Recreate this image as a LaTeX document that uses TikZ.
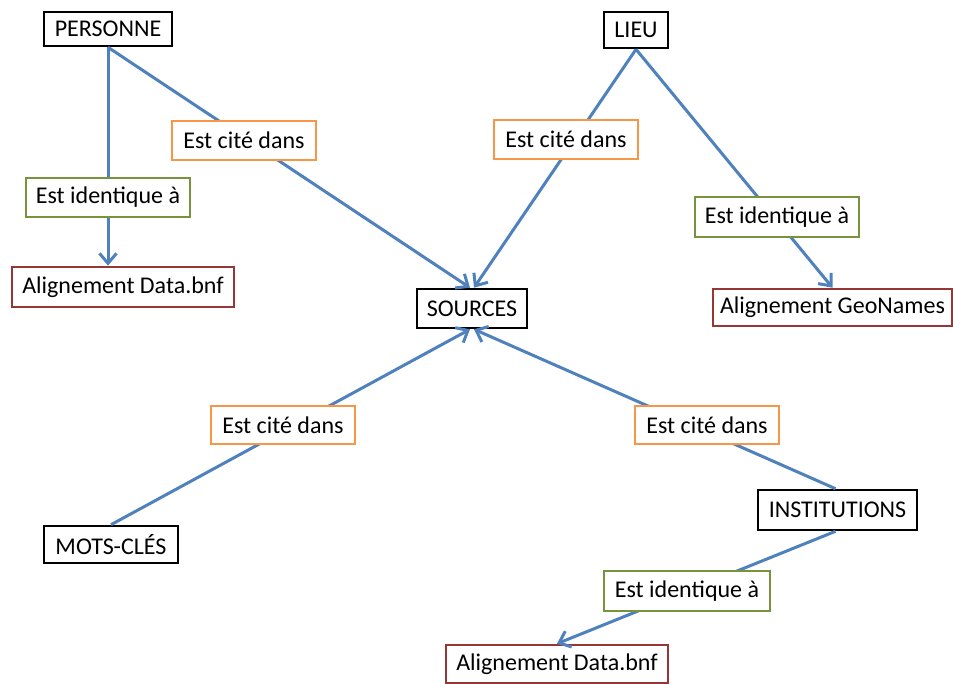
\documentclass[tikz,border=0pt]{standalone}
\usepackage{fontspec}
\setmainfont{Carlito}
\usetikzlibrary{arrows.meta}
\definecolor{linkblue}{RGB}{79,129,189}
\definecolor{citeorange}{RGB}{247,150,70}
\definecolor{identgreen}{RGB}{119,147,60}
\definecolor{alignred}{RGB}{149,55,53}
\begin{document}
\begin{tikzpicture}[x=1pt,y=-1pt,
  box/.style={draw, line width=2.6pt, fill=white, inner sep=0pt, font=\fontsize{24}{28}\selectfont},
  entity/.style={box, draw=black},
  cite/.style={box, draw=citeorange},
  ident/.style={box, draw=identgreen},
  align/.style={box, draw=alignred},
  link/.style={draw=linkblue, line width=3pt},
  arr/.style={link, -{Straight Barb[length=10pt,width=17pt,line width=3pt]}}]
\useasboundingbox (0,0) rectangle (953,684);
% main nodes
\node[entity, minimum width=128pt, minimum height=34pt] (pers) at (108,29) {PERSONNE};
\node[entity, minimum width=64pt, minimum height=36pt] (lieu) at (636,30) {LIEU};
\node[entity, minimum width=110pt, minimum height=39pt] (src) at (472,308.5) {SOURCES};
\node[entity, minimum width=134pt, minimum height=37pt] (mots) at (111,544.5) {MOTS-CLÉS};
\node[entity, minimum width=159pt, minimum height=40pt] (inst) at (837.5,510) {INSTITUTIONS};
\node[align, minimum width=222pt, minimum height=40pt] (abnf1) at (123,287) {Alignement Data.bnf};
\node[align, minimum width=239pt, minimum height=37pt] (geo) at (832.5,307.5) {Alignement GeoNames};
\node[align, minimum width=222pt, minimum height=38pt] (abnf2) at (557,664) {Alignement Data.bnf};
% connectors
\draw[arr] (pers.south) -- (pers.south |- abnf1.north);
\draw[arr] (pers.south) -- ([xshift=-2pt]src.north);
\draw[arr] (lieu.south) -- ([xshift=2pt]src.north);
\draw[arr] (lieu.south) -- (geo.north);
\draw[arr] (mots.north) -- ([xshift=-2pt]src.south);
\draw[arr] ([xshift=-2pt]inst.north) -- ([xshift=2pt]src.south);
\draw[arr] ([xshift=-2pt]inst.south) -- (abnf2.north);
% relation labels
\node[cite, minimum width=144pt, minimum height=39pt] (c1) at (244,140.5) {Est cité dans};
\node[cite, minimum width=144pt, minimum height=39pt] (c2) at (566,139.5) {Est cité dans};
\node[cite, minimum width=144pt, minimum height=38pt] (c3) at (283,425) {Est cité dans};
\node[cite, minimum width=144pt, minimum height=38pt] (c4) at (707,425) {Est cité dans};
\node[ident, minimum width=164pt, minimum height=39pt] (i1) at (108,197.5) {Est identique à};
\node[ident, minimum width=164pt, minimum height=40pt] (i2) at (777,217) {Est identique à};
\node[ident, minimum width=166pt, minimum height=40pt] (i3) at (687,591) {Est identique à};
\end{tikzpicture}
\end{document}
